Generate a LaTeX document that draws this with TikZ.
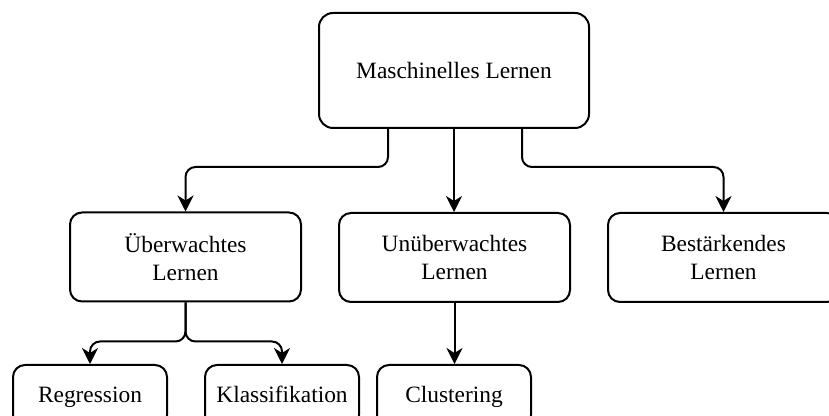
\documentclass[tikz,border=0pt]{standalone}
\usepackage{fontspec}
\setmainfont{Liberation Serif}
\usetikzlibrary{arrows.meta}

\begin{document}
\begin{tikzpicture}[x=0.5pt,y=-0.5pt,
        box/.style={draw,line width=1pt,rounded corners=6pt,align=center,inner sep=0pt,
            font=\fontsize{11.7}{13.85}\selectfont},
        mainbox/.style={box,rounded corners=7pt,minimum width=135pt,minimum height=57.5pt},
        midbox/.style={box,minimum width=115.5pt,minimum height=44.5pt},
        leafbox/.style={box,minimum width=77pt,minimum height=31pt,text height=8.6pt,text depth=2.6pt},
        link/.style={line width=1pt,rounded corners=5pt,-{Stealth[length=8pt,width=8pt,inset=2.5pt]}}]
        \useasboundingbox (0,0) rectangle (829,416);
        \clip (0,0) rectangle (829,416);
        % Boxen
        \node[mainbox] (ml)     at (454,70.5)  {Maschinelles Lernen};
        \node[midbox]  (ueb)    at (185.5,257) {Überwachtes\\Lernen};
        \node[midbox]  (unueb)  at (454.5,257.5) {Unüberwachtes\\Lernen};
        \node[midbox]  (best)   at (723.5,257.5) {Bestärkendes\\Lernen};
        \node[leafbox] (reg)    at (90,396)    {Regression};
        \node[leafbox] (klass)  at (282,396)   {Klassifikation};
        \node[leafbox] (clust)  at (454,396)   {Clustering};
        % Pfeile
        \draw[link] ([xshift=-33pt]ml.south) -- ++(0,-19pt) -| (ueb.north);
        \draw[link] (ml.south) -- (ml.south |- unueb.north);
        \draw[link] ([xshift=34pt]ml.south) -- ++(0,-19pt) -| (best.north);
        \draw[link] (ueb.south) -- ++(0,-19.5pt) -| (reg.north);
        \draw[link] (ueb.south) -- ++(0,-19.5pt) -| (klass.north);
        \draw[link] (unueb.south) -- (unueb.south |- clust.north);
    \end{tikzpicture}
\end{document}
